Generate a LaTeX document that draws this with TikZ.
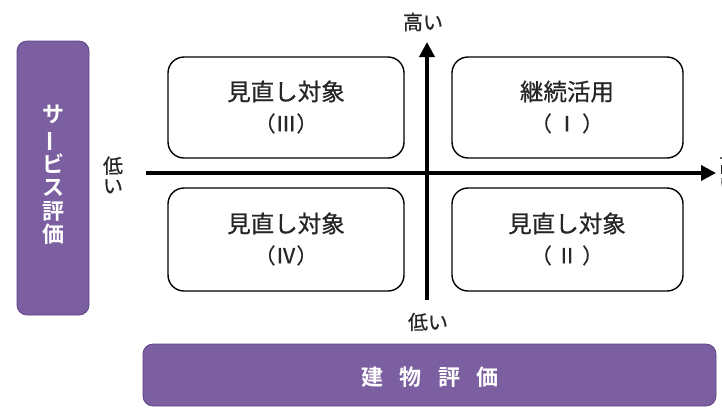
\documentclass[tikz,border=0pt]{standalone}
\usepackage{fontspec}
\setmainfont{Noto Sans CJK JP}
\newfontfamily\jpm{Noto Sans CJK JP}[FakeBold=0.7]
\newfontfamily\jpb{Noto Sans CJK JP}[BoldFont={* Bold}]
\usetikzlibrary{arrows.meta}
\definecolor{purp}{HTML}{7B5FA0}
\definecolor{purpd}{HTML}{5E4585}
\begin{document}
\begin{tikzpicture}[x=1pt,y=-1pt,
  quad/.style={draw=black,line width=1.4pt,rounded corners=16pt,fill=white},
  qtext/.style={align=center,font=\jpm\fontsize{23.5}{31}\selectfont,text=black!85},
  band/.style={draw=purpd,line width=0.8pt,fill=purp,rounded corners=10pt},
  axis/.style={line width=3.6pt,-{Triangle[length=15pt,width=15pt]}},
  lbl/.style={font=\jpm\fontsize{20}{21}\selectfont,text=black!85,inner sep=0pt}]
\useasboundingbox (0,0) rectangle (722,408);
% purple bands
\draw[band] (17,41) rectangle (89,315);
\node[font=\jpb\bfseries\fontsize{22}{23.5}\selectfont,text=white,align=center,inner sep=0pt] (sv) at (53,175) {サ\\\rotatebox[origin=c]{90}{ー}\\ビ\\ス\\評\\価};
\draw[band] (143,344) rectangle (716,406);
\node[font=\jpb\bfseries\fontsize{22}{24}\selectfont,text=white,inner sep=0pt] (bd) at (430,377) {建\hspace{0.75em}物\hspace{0.75em}評\hspace{0.75em}価};
% quadrant boxes
\draw[quad] (168,57) rectangle (404,158);
\node[qtext] (q3) at (286,107) {見直し対象\\{\fontsize{21}{24}\selectfont （Ⅲ）}};
\draw[quad] (452,57) rectangle (683,158);
\node[qtext] (q1) at (567,107) {継続活用\\{\fontsize{21}{24}\selectfont （ Ⅰ ）}};
\draw[quad] (168,188) rectangle (404,291);
\node[qtext] (q4) at (286,239) {見直し対象\\{\fontsize{21}{24}\selectfont （Ⅳ）}};
\draw[quad] (452,188) rectangle (683,291);
\node[qtext] (q2) at (567,239) {見直し対象\\{\fontsize{21}{24}\selectfont （ Ⅱ ）}};
% axes
\coordinate (hs) at (146,173);
\coordinate (he) at (716,173);
\coordinate (vs) at (427,300);
\coordinate (ve) at (427,42);
\draw[axis] (hs) -- (he);
\draw[axis] (vs) -- (ve);
% labels
\node[lbl] (top) at (423,22) {高い};
\node[lbl] (bot) at (428,322) {低い};
\node[lbl,align=center,font=\jpm\fontsize{20}{20}\selectfont] (lft) at (113,175) {低\\い};
\node[lbl,align=center,font=\jpm\fontsize{20}{20}\selectfont] (rgt) at (729,174) {高\\い};
\end{tikzpicture}
\end{document}
